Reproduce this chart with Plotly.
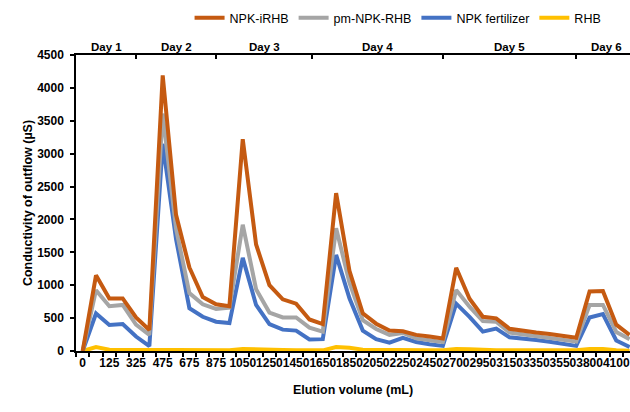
import plotly.graph_objects as go

# Elution volume labels (mL), shown on every second category
volume_labels = ["0", "125", "325", "475", "675", "875", "1050", "1250", "1450",
                 "1650", "1850", "2050", "2250", "2450", "2700", "2950", "3150",
                 "3350", "3550", "3800", "4100"]

# Conductivity of outflow (µS) per collected fraction
npk_irhb = [0, 1150, 800, 800, 510, 320, 4190, 2070, 1270, 820, 710, 680,
            3220, 1620, 1000, 785, 720, 480, 410, 2400, 1220, 573, 415, 310,
            300, 245, 220, 190, 1265, 795, 520, 497, 338, 305, 280, 258, 228,
            200, 905, 912, 400, 245]
pm_npk_rhb = [0, 925, 680, 700, 400, 245, 3610, 1860, 880, 710, 640, 660,
              1920, 940, 585, 510, 510, 355, 295, 1865, 1040, 470, 335, 245,
              275, 192, 162, 135, 927, 673, 455, 445, 280, 253, 228, 208, 178,
              142, 700, 700, 290, 180]
npk_fertilizer = [0, 570, 395, 410, 220, 75, 3150, 1700, 650, 520, 445, 425,
                  1415, 700, 408, 325, 310, 175, 180, 1460, 800, 310, 180, 127,
                  200, 137, 103, 78, 720, 520, 295, 340, 208, 193, 167, 142, 117,
                  78, 510, 560, 160, 60]
rhb = [0, 60, 20, 15, 10, 10, 15, 15, 10, 10, 10, 10, 30, 30, 15, 15, 10, 10,
       10, 60, 50, 20, 15, 10, 10, 10, 10, 10, 30, 25, 10, 10, 10, 10, 10, 10,
       10, 10, 30, 30, 10, 5]

# Sampling days and the fraction positions where a new day begins
day_names = ["Day 1", "Day 2", "Day 3", "Day 4", "Day 5", "Day 6"]
day_starts = [4, 10, 17.2, 27, 37]

n = len(npk_irhb)
xs = list(range(n))

FONT = "Liberation Sans, Arial, sans-serif"

series = [
    ("RHB", rhb, "#FFC000", 4),
    ("NPK fertilizer", npk_fertilizer, "#4472C4", 3),
    ("pm-NPK-RHB", pm_npk_rhb, "#A5A5A5", 2),
    ("NPK-iRHB", npk_irhb, "#C55A11", 1),
]

fig = go.Figure()
for name, vals, color, rank in series:
    fig.add_trace(go.Scatter(
        x=xs, y=vals, name=name, mode="lines",
        line=dict(color=color, width=4),
        legendrank=rank,
    ))

# invisible trace that carries the day axis on top
fig.add_trace(go.Scatter(x=day_starts, y=[None] * len(day_starts), xaxis="x2",
                         showlegend=False, hoverinfo="skip", mode="lines"))

edges = [-0.5] + day_starts + [n - 0.5]
for i, label in enumerate(day_names):
    fig.add_annotation(
        x=(edges[i] + edges[i + 1]) / 2, xref="x2",
        y=1, yref="paper", yanchor="bottom", yshift=0,
        text="<b>%s</b>" % label, showarrow=False,
        font=dict(family=FONT, size=11.5, color="black"),
    )

x_range = [-0.5, 41.03]
boundaries = [i - 0.5 for i in range(n + 1)]

fig.update_layout(
    width=630, height=412,
    margin=dict(l=76, r=0, t=55, b=61),
    paper_bgcolor="white", plot_bgcolor="white",
    font=dict(family=FONT, color="black"),
    showlegend=True,
    legend=dict(orientation="h", x=0.205, xanchor="left", y=1.175, yanchor="top",
                font=dict(family=FONT, size=12.5, color="black"),
                bgcolor="rgba(0,0,0,0)", itemwidth=30),
    xaxis=dict(
        range=x_range, showgrid=False, zeroline=False, automargin=False,
        showline=True, linecolor="black", linewidth=1.5,
        tickmode="array", tickvals=xs[::2], tickangle=0,
        ticktext=["<b>%s</b>" % t for t in volume_labels],
        ticks="", tickfont=dict(family=FONT, size=12, color="black"),
        minor=dict(tickmode="array", tickvals=boundaries, ticks="outside",
                   ticklen=4, tickwidth=1.5, tickcolor="black"),
        title=dict(text="<b>Elution volume (mL)</b>",
                   font=dict(family=FONT, size=12.5, color="black"), standoff=16),
    ),
    xaxis2=dict(
        range=x_range, overlaying="x", side="top", anchor="y",
        showgrid=False, zeroline=False, showline=True, linecolor="black",
        linewidth=2, tickmode="array", tickvals=day_starts, ticks="inside",
        ticklen=4, tickwidth=2, tickcolor="black", showticklabels=False,
    ),
    yaxis=dict(
        range=[0, 4500], showgrid=False, zeroline=False, automargin=False,
        showline=True, linecolor="black", linewidth=1.5,
        tickmode="linear", tick0=0, dtick=500, ticks="outside", ticklen=4,
        tickwidth=1.5, tickcolor="black", ticklabelstandoff=4,
        tickfont=dict(family=FONT, size=12, color="black"),
        tickprefix="<b>", ticksuffix="</b>",
        title=dict(text="<b>Conductivity of outflow (µS)</b>",
                   font=dict(family=FONT, size=12.5, color="black"), standoff=2),
    ),
)

fig.write_html("out.html")
